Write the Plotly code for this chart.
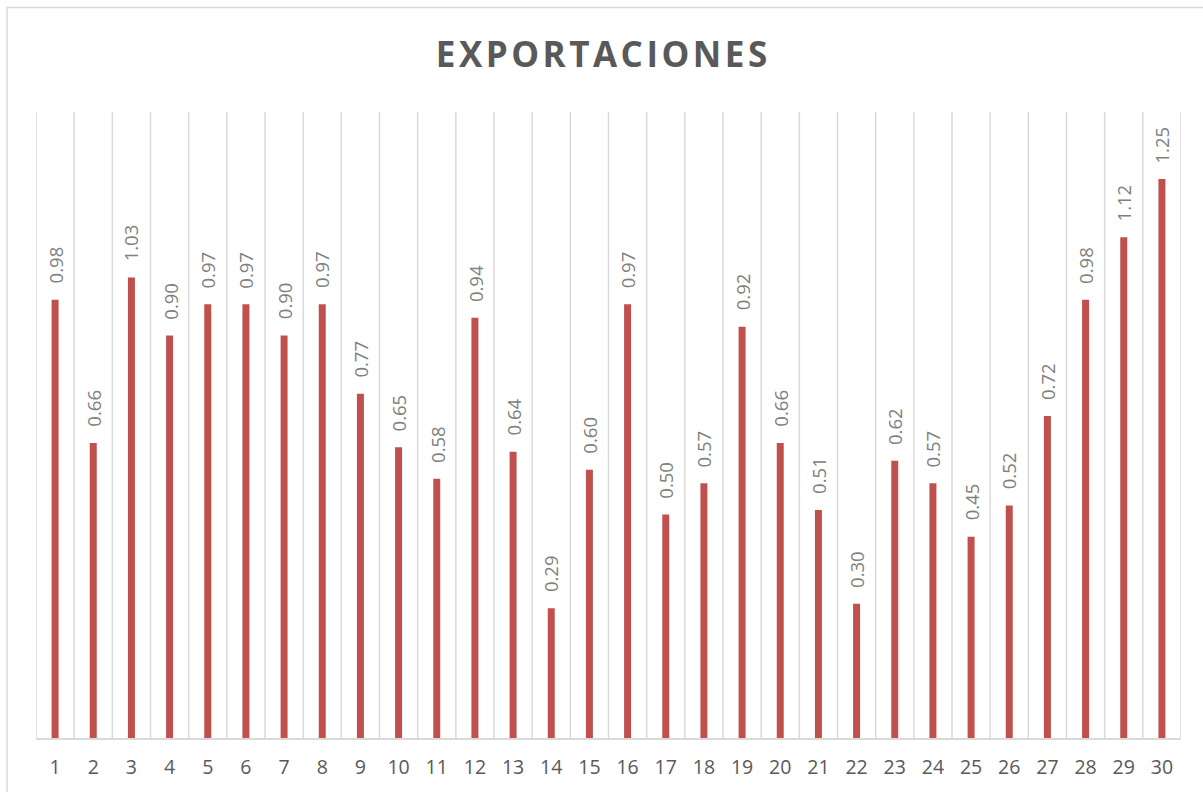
import plotly.graph_objects as go

# Export series by period
periods = list(range(1, 31))
exports = [0.98, 0.66, 1.03, 0.90, 0.97, 0.97, 0.90, 0.97, 0.77, 0.65,
           0.58, 0.94, 0.64, 0.29, 0.60, 0.97, 0.50, 0.57, 0.92, 0.66,
           0.51, 0.30, 0.62, 0.57, 0.45, 0.52, 0.72, 0.98, 1.12, 1.25]
tick_labels = [str(p) for p in periods]
title_text = "EXPORTACIONES"

BAR_COLOR = "#C0504D"
GRID_COLOR = "#D9D9D9"
TEXT_DARK = "#595959"
TEXT_LABEL = "#808080"
FONT = "Open Sans"

fig = go.Figure(
    go.Bar(
        x=periods,
        y=exports,
        marker=dict(color=BAR_COLOR, line=dict(width=0)),
        hoverinfo="x+y",
    )
)

# Value labels, rotated, sitting just above each bar
for p, v in zip(periods, exports):
    fig.add_annotation(
        x=p, y=v, text=f"{v:.2f}", textangle=-90,
        showarrow=False, xanchor="center", yanchor="bottom", yshift=14,
        font=dict(family=FONT, size=18.5, color=TEXT_LABEL),
    )

# Vertical separators between categories
for b in [p - 0.5 for p in periods] + [periods[-1] + 0.5]:
    fig.add_shape(
        type="line", xref="x", yref="paper", x0=b, x1=b, y0=0, y1=1,
        line=dict(color=GRID_COLOR, width=1.5), layer="below",
    )

# Chart-area frame
fig.add_shape(
    type="rect", xref="paper", yref="paper",
    x0=-0.0253, x1=1.03, y0=-0.1, y1=1.1669,
    line=dict(color=GRID_COLOR, width=1.5), layer="below",
)

fig.update_layout(
    width=1203, height=792,
    margin=dict(l=36, r=22, t=112, b=51),
    paper_bgcolor="white", plot_bgcolor="white",
    bargap=0.817,
    showlegend=False,
    title=dict(
        text=f"<b>{'&#8202;'.join(title_text)}</b>",
        x=0.5, xanchor="center", y=0.931, yanchor="middle",
        font=dict(family=FONT, size=35, color=TEXT_DARK),
    ),
    xaxis=dict(
        range=[0.5, 30.5],
        tickmode="array", tickvals=periods, ticktext=tick_labels,
        showgrid=False, zeroline=False,
        showline=True, linecolor=GRID_COLOR, linewidth=1.5,
        ticks="", ticklen=0, ticklabelstandoff=11,
        tickfont=dict(family=FONT, size=19.5, color=TEXT_DARK),
    ),
    yaxis=dict(
        range=[0, 1.4], visible=False, showgrid=False, zeroline=False,
    ),
)

fig.write_html("out.html")
